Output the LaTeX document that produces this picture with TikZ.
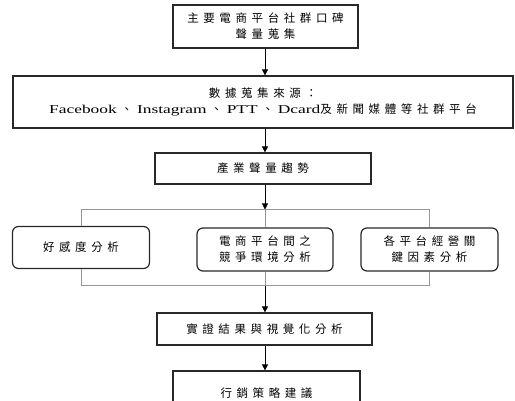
\documentclass[tikz,border=0pt]{standalone}
\usepackage{fontspec}
\usetikzlibrary{arrows.meta}
\newfontfamily\cjk{Noto Sans CJK TC}[LetterSpace=40]
\newfontfamily\latin{Liberation Serif}[FakeStretch=1.45]

\tikzset{every picture/.style={line width=0.75pt}}
\tikzset{
  stepbox/.style={draw={rgb,255:red,40;green,40;blue,40},line width=1.2pt,inner sep=0pt,
    align=center,font=\cjk\fontsize{11.5}{16}\selectfont},
  roundbox/.style={stepbox,rounded corners=6pt},
  flow/.style={draw=black,line width=0.8pt,-{Triangle[width=6pt,length=6pt]}},
  bracket/.style={draw={rgb,255:red,150;green,150;blue,150},line width=0.9pt}
}

\begin{document}
\begin{tikzpicture}[x=1pt,y=1pt,yscale=-1]
\useasboundingbox (0,0) rectangle (515,401);
\clip (0,0) rectangle (515,401);

% Text Node
\node [stepbox,minimum width=185,minimum height=43] (collect) at (265.5,26.5) {主要電商平台社群口碑\\聲量蒐集};
% Text Node
\node [stepbox,minimum width=500,minimum height=52] (source) at (263,102) {數據蒐集來源：\\{\latin\fontsize{12}{16}\selectfont Facebook }、{\latin\fontsize{12}{16}\selectfont\ Instagram }、{\latin\fontsize{12}{16}\selectfont\ PTT }、{\latin\fontsize{12}{16}\selectfont\ Dcard}及新聞媒體等社群平台};
% Text Node
\node [stepbox,minimum width=216,minimum height=31] (trend) at (263,168.5) {產業聲量趨勢};

% Text Node
\node [roundbox,minimum width=137,minimum height=42] (favor) at (81,247.5) {好感度分析};
% Text Node
\node [roundbox,minimum width=136,minimum height=43] (compete) at (265,249.5) {電商平台間之\\競爭環境分析};
% Text Node
\node [roundbox,minimum width=137,minimum height=43] (factor) at (429.5,249.5) {各平台經營關\\鍵因素分析};

% Text Node
\node [stepbox,minimum width=215,minimum height=32] (result) at (264.5,329) {實證結果與視覺化分析};
% Text Node
\node [stepbox,minimum width=187,minimum height=44] (advice) at (266.5,393) {行銷策略建議};

\coordinate (splitT) at (265,209.5);
\coordinate (splitB) at (265,285.7);

%Straight Lines
\draw [flow] (collect.south -| splitT) -- (source.north -| splitT);
\draw [flow] (source.south -| splitT) -- (trend.north -| splitT);
\draw [flow] (trend.south -| splitT) -- (splitT);
%Straight Lines
\draw [bracket] (favor.north) |- (splitT) -| (factor.north);
\draw [bracket] (splitT) -- (compete.north);
\draw [bracket] (favor.south) |- (splitB) -| (factor.south);
\draw [bracket] (compete.south) -- (splitB);
%Straight Lines
\draw [flow] (splitB) -- (result.north -| splitB);
\draw [flow] (result.south -| splitB) -- (advice.north -| splitB);

\end{tikzpicture}
\end{document}
